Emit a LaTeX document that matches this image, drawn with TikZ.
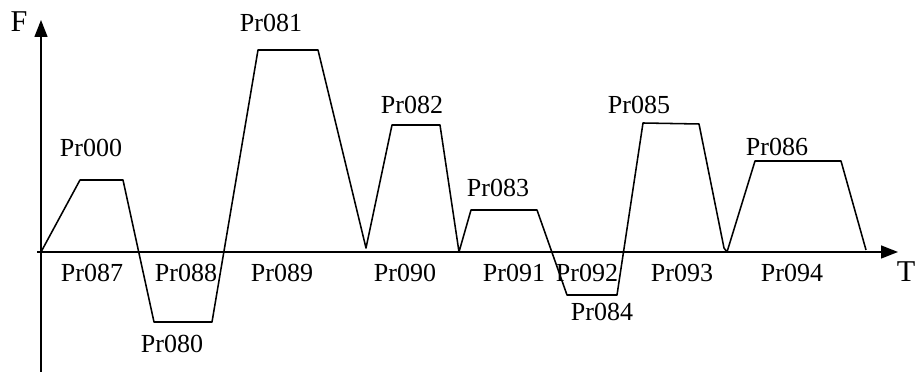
\documentclass[tikz,border=0pt]{standalone}
\usepackage{fontspec}
\setmainfont{Liberation Serif}
\usetikzlibrary{arrows.meta}

\begin{document}
\begin{tikzpicture}[x=0.025cm,y=0.025cm,
	lbl/.style={font=\fontsize{18.5}{22}\selectfont,inner sep=0pt},
	axlbl/.style={font=\fontsize{21.5}{25}\selectfont,inner sep=0pt},
	axis/.style={line width=1.1pt,-{Triangle[length=0.42cm,width=0.32cm]}}]
		\useasboundingbox (-41,-120) rectangle (874,252);
		%Axes F and T
		\coordinate (ybot) at (0,-120);
		\coordinate (ytop) at (0,232);
		\coordinate (xbeg) at (-4,0);
		\coordinate (xend) at (857,0);
		\draw[axis] (ybot)--(ytop);
		\draw[axis] (xbeg)--(xend);
		\node[axlbl] (F) at (-22,230) {F};
		\node[axlbl] (T) at (865,-20) {T};
		%Speed profile
		\draw[line width=1.1pt,line join=round] (0,0)--(39,72)--(82,72)--(113,-70)--(171,-70)
		--(217,202)--(277,202)--(325,4)--(351,127)--(399,127)--(418,0)
		--(430,42)--(496,42)--(526,-43)--(576,-43)--(602,129)--(658,128)
		--(683,4)--(686,0)--(714,91)--(800,91)--(825,2);
		%Labels above and below the profile
		\node[lbl] (p000) at (50,104) {Pr000};
		\node[lbl] (p081) at (230,229) {Pr081};
		\node[lbl] (p080) at (131,-92) {Pr080};
		\node[lbl] (p082) at (371,147) {Pr082};
		\node[lbl] (p083) at (457,64) {Pr083};
		\node[lbl] (p084) at (561,-60) {Pr084};
		\node[lbl] (p085) at (598,147) {Pr085};
		\node[lbl] (p086) at (736,105) {Pr086};
		%Labels of the time intervals
		\foreach \n/\x in {087/51,088/145,089/241,090/364,091/473,092/546,093/641,094/751}
		\node[lbl] (p\n) at (\x,-21) {Pr\n};
\end{tikzpicture}
\end{document}
